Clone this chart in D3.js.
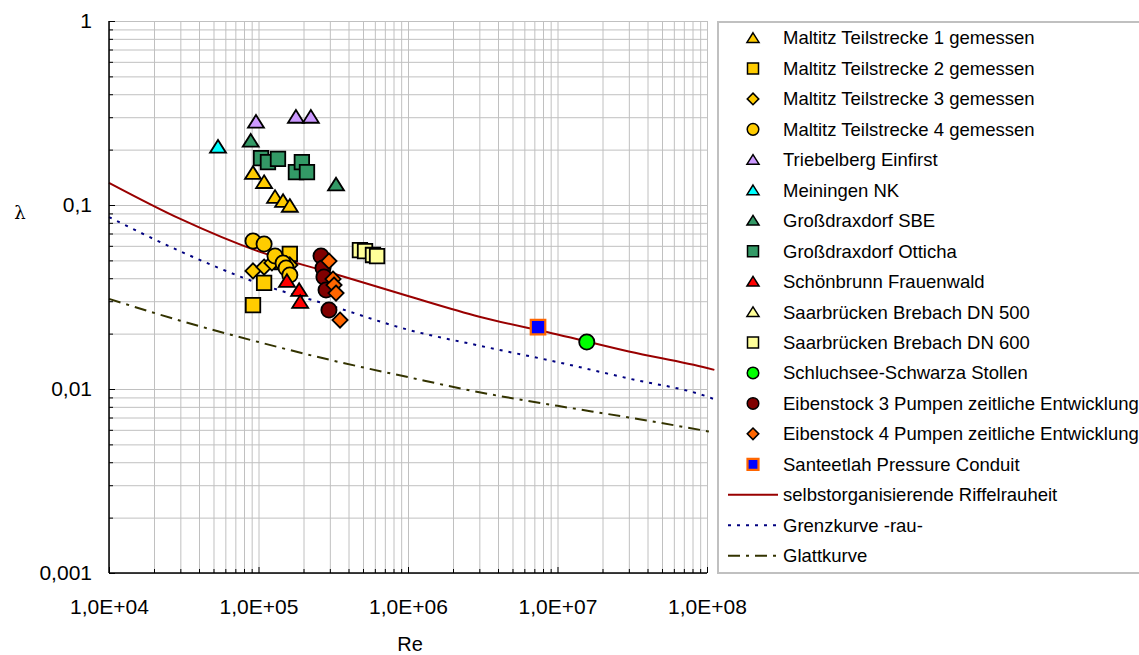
<!doctype html>
<html>
<head>
<meta charset="utf-8">
<style>
  body { margin: 0; background: #fff; font-family: 'Liberation Sans', Arial, sans-serif; }
  svg { display: block; }
  .grid line { stroke: #c0c0c0; stroke-width: 1; }
  .grid path { display: none; }
  .axis path { stroke: #000; stroke-width: 1.5; }
  .axis line { stroke: #000; stroke-width: 1; }
  .axis text { font-family: 'Liberation Sans', Arial, sans-serif; font-size: 21px; fill: #000; }
  .leg text { font-size: 18.5px; fill: #000; }
</style>
<script src="https://d3js.org/d3.v7.min.js"></script>
</head>
<body>
<svg width="1139" height="655"></svg>
<script>
// axis tick labels
const xTicks = [1e4, 1e5, 1e6, 1e7, 1e8];
const xTickLabels = ['1,0E+04', '1,0E+05', '1,0E+06', '1,0E+07', '1,0E+08'];
const yTicks = [0.001, 0.01, 0.1, 1];
const yTickLabels = ['0,001', '0,01', '0,1', '1'];

// measured series [Re, lambda]
const maltitz1 = [[9.19e4, 0.149], [1.09e5, 0.133], [1.29e5, 0.1105], [1.46e5, 0.105], [1.62e5, 0.0988]];
const maltitz2 = [[9.19e4, 0.0286], [1.09e5, 0.0377], [1.44e5, 0.049], [1.62e5, 0.0542]];
const maltitz3 = [[9.19e4, 0.0438], [1.09e5, 0.046], [1.23e5, 0.0484], [1.41e5, 0.0496], [1.62e5, 0.0472]];
const maltitz4 = [[9.19e4, 0.0637], [1.09e5, 0.0614], [1.29e5, 0.0528], [1.46e5, 0.0484], [1.53e5, 0.0455], [1.62e5, 0.0417]];
const triebelberg = [[9.62e4, 0.283], [1.78e5, 0.301], [2.24e5, 0.301]];
const meiningen = [[5.36e4, 0.207]];
const sbe = [[8.87e4, 0.223], [3.30e5, 0.129]];
const otticha = [[1.04e5, 0.18], [1.157e5, 0.171], [1.35e5, 0.178], [1.78e5, 0.151], [1.95e5, 0.171], [2.11e5, 0.151]];
const schoenbrunn = [[1.55e5, 0.0386], [1.87e5, 0.0345], [1.90e5, 0.0297]];
const brebach500 = [];
const brebach600 = [[4.77e5, 0.0569], [5.16e5, 0.0562], [5.83e5, 0.0535], [6.21e5, 0.0528]];
const schluchsee = [[1.57e7, 0.018]];
const eibenstock3 = [[2.62e5, 0.0528], [2.70e5, 0.0455], [2.74e5, 0.0406], [2.83e5, 0.0345], [2.96e5, 0.0269]];
const eibenstock4 = [[2.96e5, 0.0496], [3.15e5, 0.0396], [3.20e5, 0.0367], [3.30e5, 0.0332], [3.51e5, 0.0237]];
const santeetlah = [[7.41e6, 0.0217]];

// curves [Re, lambda]
const riffel = [[1e4, 0.132], [3e4, 0.084], [1e5, 0.056], [3e5, 0.043], [1e6, 0.032], [3e6, 0.0247], [1e7, 0.0198], [3e7, 0.016], [1e8, 0.013], [1.12e8, 0.0127]];
const grenz = [[1e4, 0.086], [3e4, 0.056], [1e5, 0.0375], [3e5, 0.0285], [1e6, 0.021], [3e6, 0.0172], [1e7, 0.014], [3e7, 0.0114], [1e8, 0.0091], [1.12e8, 0.0088]];
const glatt = [[1e4, 0.0309], [3e4, 0.0235], [1e5, 0.018], [3e5, 0.0144], [1e6, 0.0116], [3e6, 0.0096], [1e7, 0.0081], [3e7, 0.007], [1e8, 0.0059], [1.12e8, 0.0058]];

const series = [
  { name: 'Maltitz Teilstrecke 1 gemessen', data: maltitz1, shape: 'tri', fill: '#FFCC00', stroke: '#000' },
  { name: 'Maltitz Teilstrecke 2 gemessen', data: maltitz2, shape: 'sq', fill: '#FFCC00', stroke: '#000' },
  { name: 'Maltitz Teilstrecke 3 gemessen', data: maltitz3, shape: 'dia', fill: '#FFCC00', stroke: '#000' },
  { name: 'Maltitz Teilstrecke 4 gemessen', data: maltitz4, shape: 'circ', fill: '#FFCC00', stroke: '#000' },
  { name: 'Triebelberg Einfirst', data: triebelberg, shape: 'tri', fill: '#CC99FF', stroke: '#000' },
  { name: 'Meiningen NK', data: meiningen, shape: 'tri', fill: '#00FFFF', stroke: '#000' },
  { name: 'Großdraxdorf SBE', data: sbe, shape: 'tri', fill: '#339966', stroke: '#000' },
  { name: 'Großdraxdorf Otticha', data: otticha, shape: 'sq', fill: '#339966', stroke: '#000' },
  { name: 'Schönbrunn Frauenwald', data: schoenbrunn, shape: 'tri', fill: '#FF0000', stroke: '#000' },
  { name: 'Saarbrücken Brebach DN 500', data: brebach500, shape: 'tri', fill: '#FFFF99', stroke: '#000' },
  { name: 'Saarbrücken Brebach DN 600', data: brebach600, shape: 'sq', fill: '#FFFF99', stroke: '#000' },
  { name: 'Schluchsee-Schwarza Stollen', data: schluchsee, shape: 'circ', fill: '#00FF00', stroke: '#000' },
  { name: 'Eibenstock 3 Pumpen zeitliche Entwicklung', data: eibenstock3, shape: 'circ', fill: '#800000', stroke: '#000' },
  { name: 'Eibenstock 4 Pumpen zeitliche Entwicklung', data: eibenstock4, shape: 'dia', fill: '#FF6600', stroke: '#000' },
  { name: 'Santeetlah Pressure Conduit', data: santeetlah, shape: 'sq', fill: '#0000FF', stroke: '#FF6600' }
];

const curves = [
  { name: 'selbstorganisierende Riffelrauheit', data: riffel, color: '#990000', dash: null },
  { name: 'Grenzkurve -rau-', data: grenz, color: '#000080', dash: '3,6' },
  { name: 'Glattkurve', data: glatt, color: '#333300', dash: '12,6,3,6' }
];

const svg = d3.select('svg');
const plotL = 109, plotR = 707, plotT = 21, plotB = 573;

const x = d3.scaleLog().domain([1e4, 1e8]).range([plotL, plotR]);
const y = d3.scaleLog().domain([0.001, 1]).range([plotB, plotT]);

const xAll = x.ticks();
const yAll = y.ticks();

// grid
svg.append('g').attr('class', 'grid')
  .attr('transform', `translate(0,${plotB})`)
  .call(d3.axisBottom(x).tickValues(xAll).tickSize(-(plotB - plotT)).tickFormat(''));
svg.append('g').attr('class', 'grid')
  .attr('transform', `translate(${plotL},0)`)
  .call(d3.axisLeft(y).tickValues(yAll).tickSize(-(plotR - plotL)).tickFormat(''));

// marker shapes
function shapePath(shape, s) {
  const h = s / 2;
  if (shape === 'tri') return `M0,${-h * 0.95}L${h * 1.1},${h * 0.8}L${-h * 1.1},${h * 0.8}Z`;
  if (shape === 'sq') return `M${-h},${-h}H${h}V${h}H${-h}Z`;
  if (shape === 'dia') return `M0,${-h * 1.05}L${h * 1.05},0L0,${h * 1.05}L${-h * 1.05},0Z`;
  const r = h * 1.05;
  return `M${r},0A${r},${r} 0 1,1 ${-r},0A${r},${r} 0 1,1 ${r},0Z`;
}

// curves
const line = d3.line().x(d => x(d[0])).y(d => y(d[1])).curve(d3.curveMonotoneX);
curves.forEach(c => {
  svg.append('path')
    .attr('d', line(c.data))
    .attr('fill', 'none')
    .attr('stroke', c.color)
    .attr('stroke-width', 2)
    .attr('stroke-dasharray', c.dash);
});

// points
series.forEach(s => {
  svg.append('g').selectAll('path')
    .data(s.data)
    .join('path')
    .attr('transform', d => `translate(${x(d[0])},${y(d[1])})`)
    .attr('d', shapePath(s.shape, 14.5))
    .attr('fill', s.fill)
    .attr('stroke', s.stroke)
    .attr('stroke-width', s.stroke === '#000' ? 1.8 : 2.2);
});

// axes
const isMajor = (list, d) => list.findIndex(t => Math.abs(t - d) < d * 1e-6);

const xAxis = svg.append('g').attr('class', 'axis')
  .attr('transform', `translate(0,${plotB})`)
  .call(d3.axisBottom(x).tickValues(xAll).tickSizeInner(-4).tickSizeOuter(0).tickPadding(26)
    .tickFormat(d => { const i = isMajor(xTicks, d); return i >= 0 ? xTickLabels[i] : ''; }));
xAxis.selectAll('.tick line').filter(d => isMajor(xTicks, d) >= 0).attr('y2', -6);
xAxis.select('.domain').attr('d', `M${plotL},0H${plotR}`);

const yAxis = svg.append('g').attr('class', 'axis')
  .attr('transform', `translate(${plotL},0)`)
  .call(d3.axisLeft(y).tickValues(yAll).tickSizeInner(-4).tickSizeOuter(0).tickPadding(17)
    .tickFormat(d => { const i = isMajor(yTicks, d); return i >= 0 ? yTickLabels[i] : ''; }));
yAxis.selectAll('.tick line').filter(d => isMajor(yTicks, d) >= 0).attr('x2', 6);
yAxis.select('.domain').attr('d', `M0,${plotT}V${plotB}`);

// axis titles
svg.append('text')
  .attr('x', 410).attr('y', 644)
  .attr('dy', '0.35em')
  .attr('text-anchor', 'middle')
  .style('font-size', '20px')
  .text('Re');
svg.append('text')
  .attr('x', 20).attr('y', 213)
  .attr('dy', '0.35em')
  .attr('text-anchor', 'middle')
  .style('font-family', "'DejaVu Serif', serif")
  .style('font-size', '18px')
  .text('λ');

// legend
const leg = svg.append('g').attr('class', 'leg');
leg.append('rect')
  .attr('x', 718).attr('y', 22)
  .attr('width', 440).attr('height', 551)
  .attr('fill', '#fff')
  .attr('stroke', '#c0c0c0')
  .attr('stroke-width', 2);

const rowY = i => 38 + i * 30.45;
series.forEach((s, i) => {
  leg.append('path')
    .attr('transform', `translate(753,${rowY(i)})`)
    .attr('d', shapePath(s.shape, 11))
    .attr('fill', s.fill)
    .attr('stroke', s.stroke)
    .attr('stroke-width', s.stroke === '#000' ? 1.5 : 2.2);
  leg.append('text').attr('x', 783).attr('y', rowY(i)).attr('dy', '0.35em').text(s.name);
});
curves.forEach((c, j) => {
  const i = series.length + j;
  leg.append('line')
    .attr('x1', 728).attr('x2', 778)
    .attr('y1', rowY(i)).attr('y2', rowY(i))
    .attr('stroke', c.color)
    .attr('stroke-width', 2)
    .attr('stroke-dasharray', c.dash);
  leg.append('text').attr('x', 783).attr('y', rowY(i)).attr('dy', '0.35em').text(c.name);
});
</script>
</body>
</html>
